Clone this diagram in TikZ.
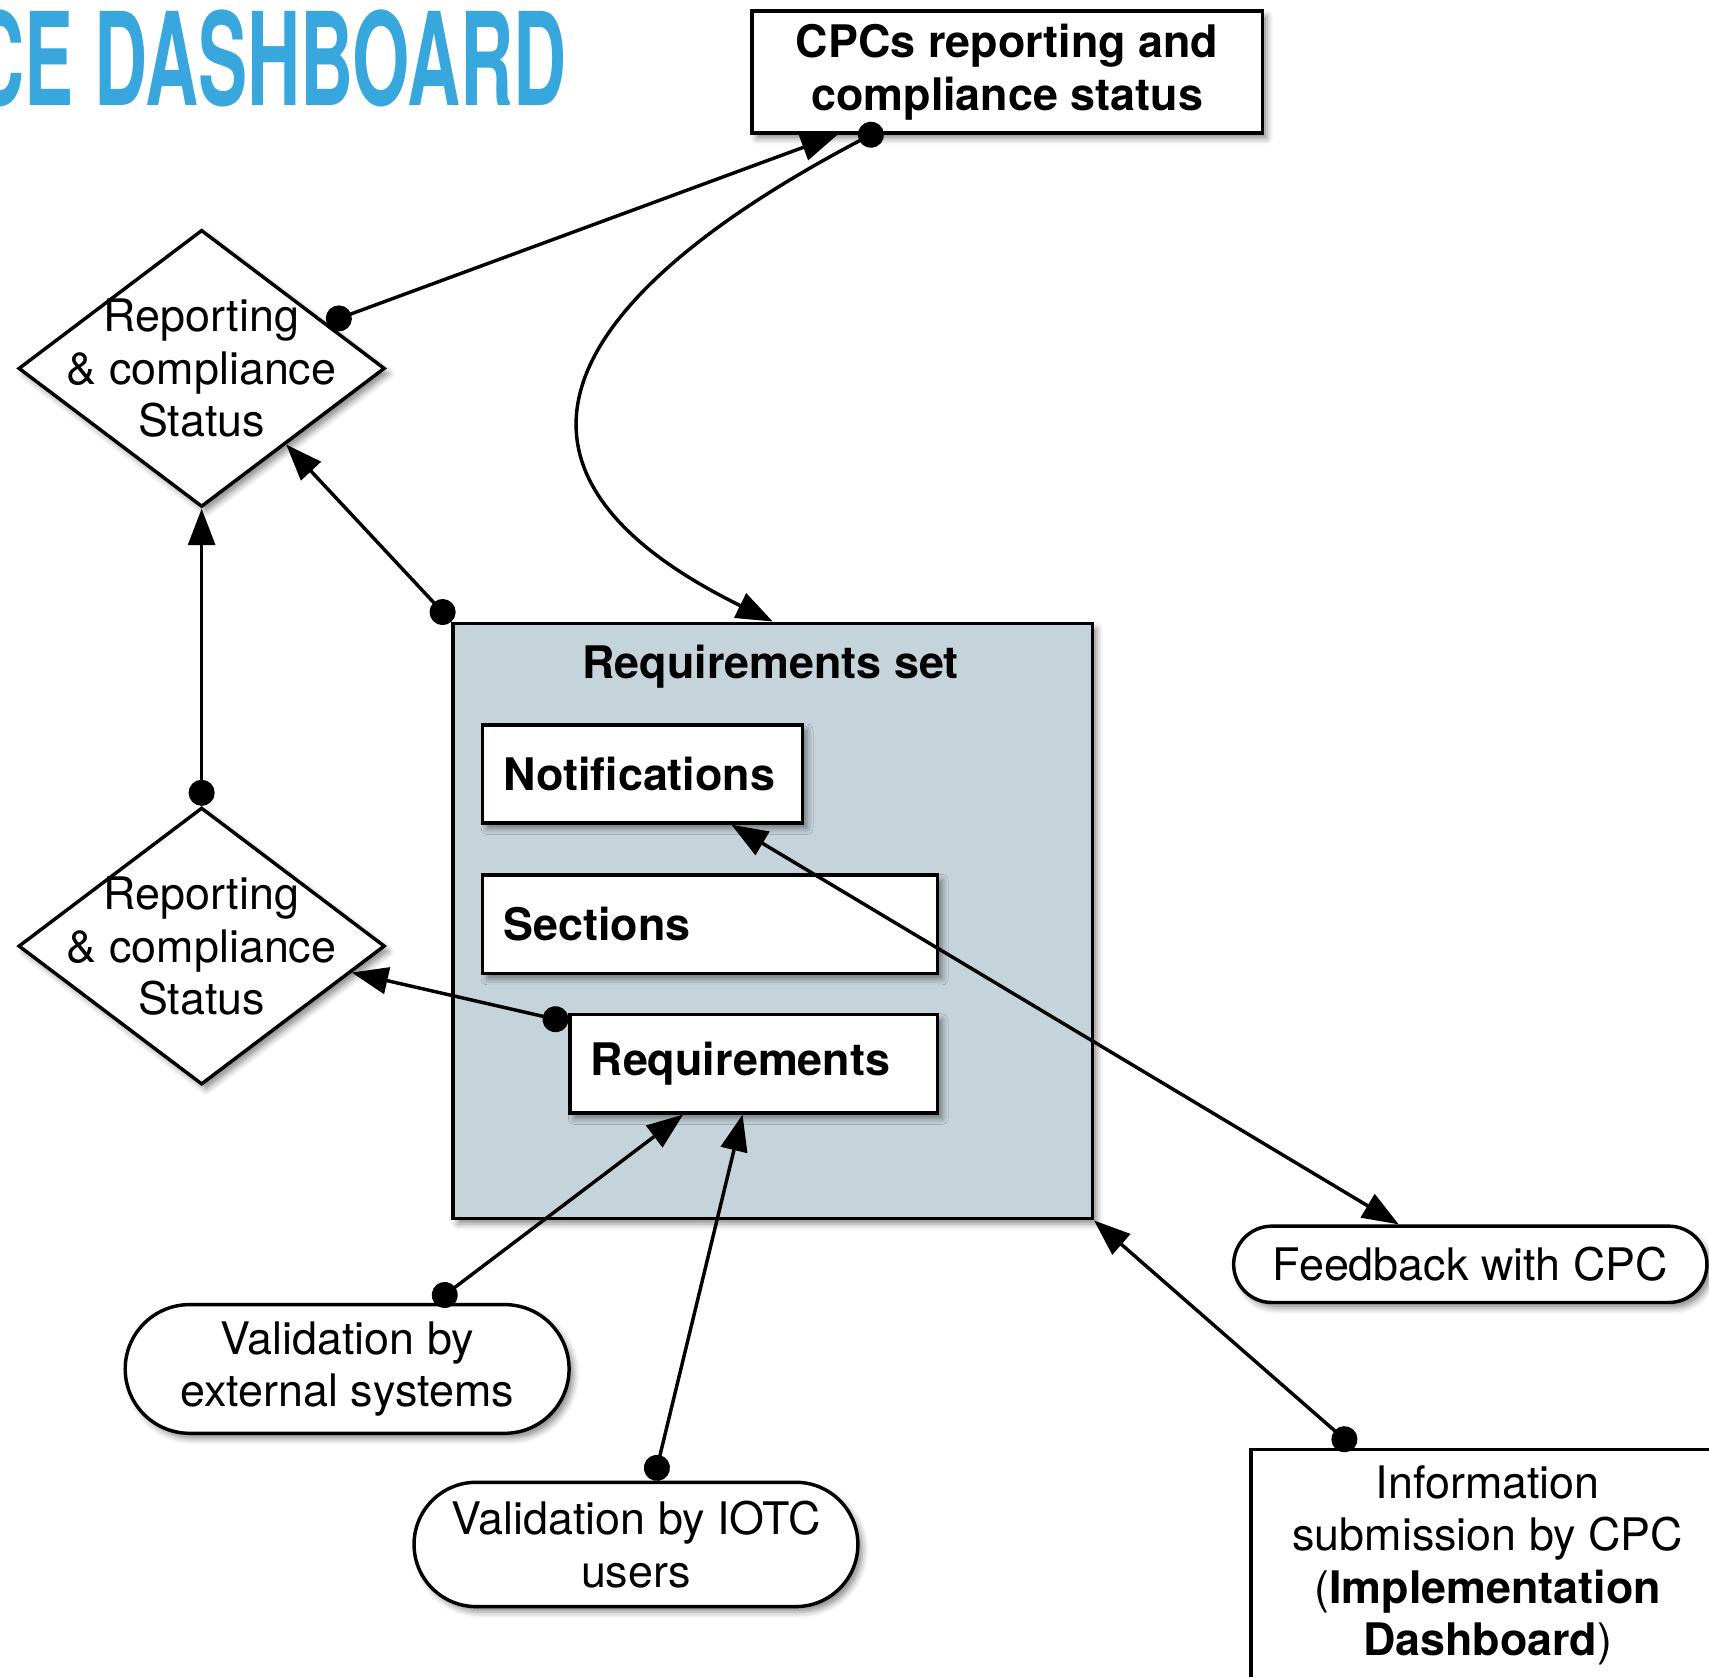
\documentclass[tikz,border=0pt]{standalone}
\usepackage{fontspec}
\setmainfont{TeX Gyre Heros}
\setsansfont{TeX Gyre Heros}
\usepackage{graphicx}
\usetikzlibrary{arrows.meta}
\usetikzlibrary{shapes}
\usetikzlibrary{calc}
\usetikzlibrary{shadows.blur}
\definecolor{setGray}{HTML}{C5D3DA}
\definecolor{titleBlue}{HTML}{37A7DD}
\newcommand{\baseFont}{\fontsize{11.7}{13.7}\selectfont}

\begin{document}
\begin{tikzpicture}[x = 0.01cm, y = -0.01cm, font = \baseFont]
	\tikzstyle{shadowStyle} = [blur shadow = {shadow xshift = 1.2pt, shadow yshift = -1.4pt, shadow blur radius = 1.6pt, shadow opacity = 45}]
	\tikzstyle{boxStyle} = [shape = rectangle, draw, fill = white, line width = 0.9pt, inner sep = 0pt, shadowStyle]
	\tikzstyle{itemStyle} = [boxStyle, minimum height = 0.9cm, inner xsep = 0.19cm, align = left, font = \baseFont\bfseries]
	\tikzstyle{pillStyle} = [boxStyle, align = center]
	\tikzstyle{statusStyle} = [shape = diamond, draw, fill = white, line width = 0.9pt, inner sep = 0pt, minimum width = 3.36cm, minimum height = 2.54cm, shadowStyle]
	\tikzstyle{titleStyle} = [text = titleBlue, font = \fontsize{33.7}{36}\selectfont\bfseries, inner sep = 0pt]
	\tikzstyle{arrowStyle} = [line width = 0.9pt, -{Triangle[length = 9.5pt, width = 7pt]}]
	\tikzstyle{dotArrowStyle} = [arrowStyle, {Circle[length = 6.8pt]}-{Triangle[length = 9.5pt, width = 7pt]}]
	\tikzstyle{bothArrowStyle} = [arrowStyle, {Triangle[length = 9.5pt, width = 7pt]}-{Triangle[length = 9.5pt, width = 7pt]}]

	\useasboundingbox (0,0) rectangle (1568,1538);

	\node[titleStyle, anchor = base east] (title) at (521,97) {\scalebox{0.57}[1]{CE DASHBOARD}};

	\node[boxStyle, minimum width = 4.68cm, minimum height = 1.12cm, align = center, font = \baseFont\bfseries] (cpc) at (924,66) {CPCs reporting and\\compliance status};
	\node[statusStyle, label = {[align = center]center:Reporting\\\& compliance\\Status}] (status1) at (185,338) {};
	\node[statusStyle, label = {[align = center]center:Reporting\\\& compliance\\Status}] (status2) at (185,868) {};

	\node[boxStyle, fill = setGray, minimum width = 5.86cm, minimum height = 5.46cm] (setbox) at (709,845) {};
	\node[font = \baseFont\bfseries] (settitle) at (707,612) {Requirements set};
	\node[itemStyle, minimum width = 2.93cm, text width = 2.55cm] (notif) at (589.5,710) {Notifications};
	\node[itemStyle, minimum width = 4.17cm, text width = 3.79cm] (sect) at (651.5,848) {Sections};
	\node[itemStyle, minimum width = 3.37cm, text width = 2.99cm] (req) at (691.5,976) {Requirements};

	\node[pillStyle, minimum width = 4.34cm, minimum height = 0.70cm, rounded corners = 0.35cm] (fb) at (1349,1160) {Feedback with CPC};
	\node[pillStyle, minimum width = 4.07cm, minimum height = 1.18cm, rounded corners = 0.59cm] (valext) at (318.5,1256) {Validation by\\external systems};
	\node[pillStyle, minimum width = 4.07cm, minimum height = 1.14cm, rounded corners = 0.57cm] (valiotc) at (583.5,1417) {Validation by IOTC\\users};
	\node[boxStyle, minimum width = 4.34cm, minimum height = 2.12cm, align = center] (info) at (1365,1436) {Information\\submission by CPC\\(\textbf{Implementation}\\\textbf{Dashboard})};

	\draw[dotArrowStyle] (status1.20) -- ($(cpc.south west)!0.17!(cpc.south east)$);
	\draw[dotArrowStyle, shorten <= -3.4pt] ($(cpc.south west)!0.235!(cpc.south east)$) .. controls ($(cpc.south west)!0.235!(cpc.south east)+(-285,150)$) and ($(setbox.north)+(-285,-140)$) .. (setbox.north);
	\draw[dotArrowStyle] (setbox.north west) -- (status1.-42);
	\draw[dotArrowStyle] (status2.north) -- (status1.south);
	\draw[dotArrowStyle] ($(req.north west)!0.09!(req.south west)$) -- (status2.-10);
	\draw[bothArrowStyle] ($(notif.south west)!0.775!(notif.south east)$) -- ($(fb.north west)!0.35!(fb.north east)$);
	\draw[dotArrowStyle] ($(valext.north west)!0.695!(valext.north east)$) -- ($(req.south west)!0.31!(req.south east)$);
	\draw[dotArrowStyle] ($(valiotc.north west)!0.54!(valiotc.north east)$) -- ($(req.south west)!0.47!(req.south east)$);
	\draw[dotArrowStyle] ($(info.north west)!0.22!(info.north east)$) -- (setbox.south east);
\end{tikzpicture}
\end{document}
